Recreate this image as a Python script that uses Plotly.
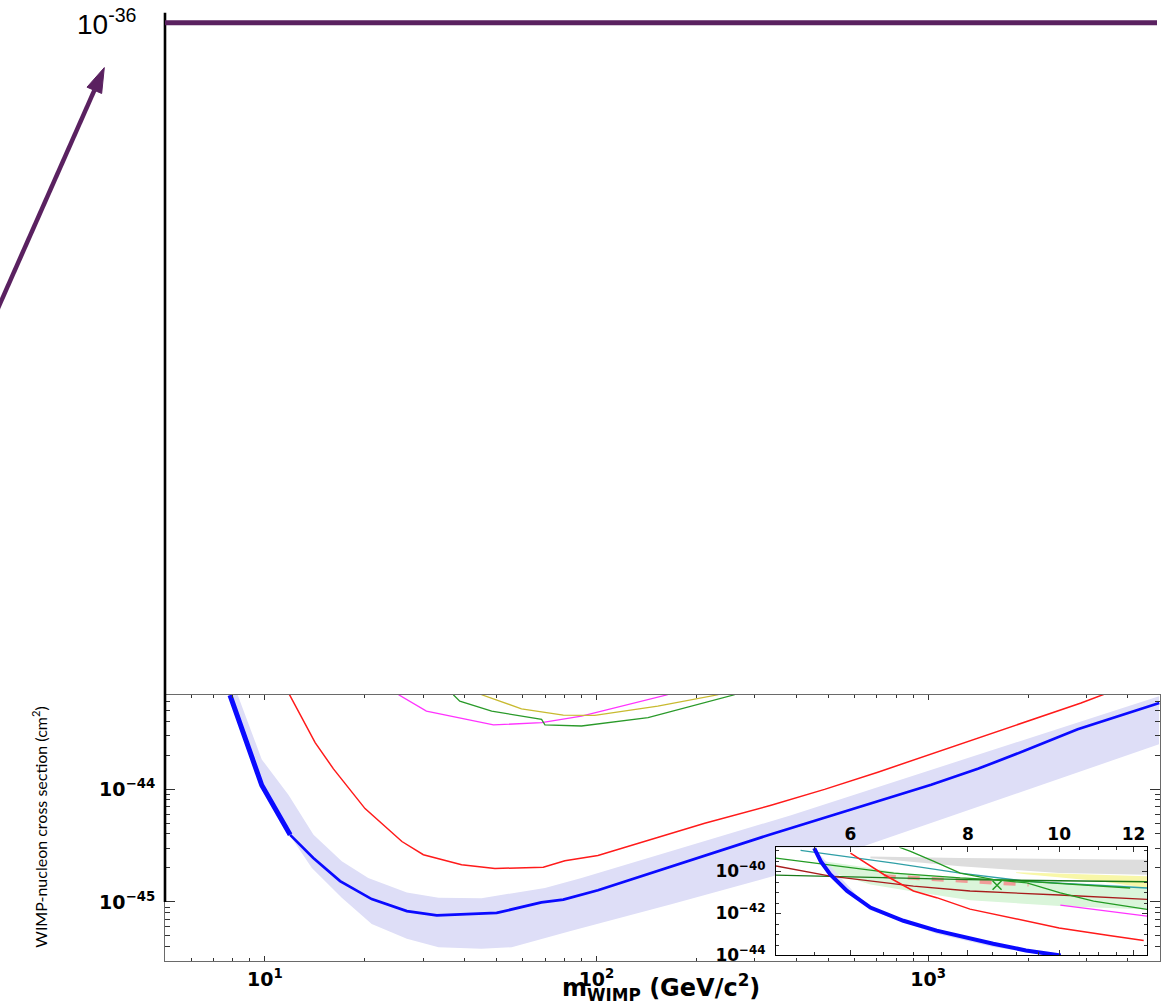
import numpy as np
import plotly.graph_objects as go

W, H = 1165, 1004

# ---------------- main panel: spin-independent WIMP-nucleon limits ----------------
# this result (median limit), GeV/c^2 and cm^2
mass_limit = [7.85, 9.79, 11.92, 14.0, 16.86, 21.0, 26.8, 33.0, 50, 68.2, 79.4, 101,
              336, 573, 1021, 1412, 1950, 2824, 4975]
sigma_limit = [6.8e-44, 1.08e-44, 3.93e-45, 2.45e-45, 1.53e-45, 1.06e-45, 8.3e-46, 7.6e-46,
               8.0e-46, 9.9e-46, 1.05e-45, 1.27e-45, 3.98e-45, 6.5e-45, 1.09e-44, 1.51e-44,
               2.18e-44, 3.38e-44, 5.79e-44]

# expected sensitivity band (upper and lower edges)
band_hi_mass = [8.24, 9.79, 11.79, 14.02, 17.06, 20.5, 26.8, 33.4, 45, 69.9, 90.1, 386, 4966]
band_hi_sigma = [7.1e-44, 1.83e-44, 8.85e-45, 3.94e-45, 2.29e-45, 1.63e-45, 1.21e-45, 1.09e-45,
                 1.08e-45, 1.33e-45, 1.63e-45, 5.87e-45, 6.64e-44]
band_lo_mass = [7.85, 9.79, 12.06, 13.86, 17.06, 21.0, 26.8, 33.4, 45, 55.5, 84.1, 168, 386, 4966]
band_lo_sigma = [6.8e-44, 1.08e-44, 3.66e-45, 2.0e-45, 1.09e-45, 6.37e-46, 4.71e-46, 3.97e-46,
                 3.85e-46, 3.97e-46, 5.57e-46, 9.55e-46, 1.87e-45, 2.49e-44]

# previous limit (red)
mass_red = [11.79, 14.18, 16.1, 20.05, 25.9, 30.06, 39.2, 49.4, 69.1, 80.3, 101, 212, 336, 487,
            705, 1021, 1477, 1950, 2890, 3476]
sigma_red = [7.1e-44, 2.58e-44, 1.51e-44, 6.71e-45, 3.43e-45, 2.62e-45, 2.14e-45, 1.98e-45,
             2.03e-45, 2.32e-45, 2.58e-45, 4.97e-45, 7.19e-45, 9.93e-45, 1.41e-44, 2.04e-44,
             2.96e-44, 3.87e-44, 5.79e-44, 7.1e-44]

mass_magenta = [25.3, 30.7, 48.9, 68.3, 90.1, 164]
sigma_magenta = [6.85e-44, 4.9e-44, 3.7e-44, 3.87e-44, 4.43e-44, 6.85e-44]

mass_olive = [45, 59.4, 79.4, 98.8, 153, 233]
sigma_olive = [6.85e-44, 5.14e-44, 4.52e-44, 4.49e-44, 5.42e-44, 6.85e-44]

mass_green = [37.0, 38.7, 48.3, 68.3, 69.9, 90.1, 143, 261]
sigma_green = [6.85e-44, 6.0e-44, 4.9e-44, 4.14e-44, 3.7e-44, 3.62e-44, 4.29e-44, 6.85e-44]

main_xticks = [10, 100, 1000]
main_xticktext = ["10<sup>1</sup>", "10<sup>2</sup>", "10<sup>3</sup>"]
main_yticks = [1e-44, 1e-45]
main_yticktext = ["10<sup>\u221244</sup>", "10<sup>\u221245</sup>"]

# ---------------- inset: low-mass region ----------------
inset_mass_limit = [5.49, 5.58, 5.71, 5.95, 6.30, 6.83, 7.41, 8.04, 8.51, 9.22, 10.04]
inset_sigma_limit = [1.26e-39, 2.95e-40, 7.0e-41, 1.15e-41, 1.87e-42, 4.44e-43, 1.5e-43,
                     6.1e-44, 3.56e-44, 1.72e-44, 9.8e-45]
inset_band_lo_mass = [5.5, 6.3, 7.41, 8.51, 9.5, 10.9]
inset_band_lo_sigma = [1.12e-39, 1.41e-42, 1.07e-43, 2.51e-44, 1.17e-44, 8.9e-45]

inset_mass_red = [6.0, 6.51, 7.00, 7.41, 8.04, 8.86, 10.0, 11.30, 12.3]
inset_sigma_red = [7.26e-40, 7.0e-41, 1.15e-41, 5.55e-42, 1.58e-42, 6.34e-43, 2.01e-43, 8.73e-44, 5.08e-44]

inset_mass_darkred = [5.0, 5.71, 7.00, 8.04, 10.0, 12.4]
inset_sigma_darkred = [1.78e-40, 5.82e-41, 1.97e-41, 1.15e-41, 7.43e-42, 4.6e-42]

inset_mass_flatgreen = [5.0, 8.0, 12.4]
inset_sigma_flatgreen = [6.49e-41, 3.98e-41, 3.16e-41]

inset_mass_green = [5.0, 5.67, 6.67, 7.85, 9.24, 11.9]
inset_sigma_green = [4.18e-40, 2.04e-40, 8.22e-41, 4.79e-41, 3.31e-41, 1.6e-41]

inset_mass_teal = [5.31, 6.67, 7.85, 9.24, 12.4]
inset_sigma_teal = [9.73e-40, 2.43e-40, 8.22e-41, 3.31e-41, 1.6e-41]

inset_mass_steep = [6.76, 6.95, 7.36, 7.85, 8.52, 9.24, 10.03, 10.88, 12.4]
inset_sigma_steep = [1.39e-39, 8.71e-40, 2.95e-40, 8.22e-41, 3.98e-41, 2.79e-41, 9.33e-42, 3.8e-42, 1.53e-42]

inset_mass_magenta = [10.03, 12.4]
inset_sigma_magenta = [2.45e-42, 7.41e-43]

inset_mass_salmon = [6.51, 9.28]
inset_sigma_salmon = [5.82e-41, 2.32e-41]

inset_mass_cross = [8.59]
inset_sigma_cross = [2.14e-41]

gray_hi_mass = [6.3, 7.85, 12.4]
gray_hi_sigma = [5.0e-40, 4.27e-40, 3.55e-40]
gray_lo_mass = [6.3, 6.6, 7.85, 10.0, 12.4]
gray_lo_sigma = [4.17e-40, 3.55e-40, 1.72e-40, 8.3e-41, 6.9e-41]

yellow_hi_mass = [9.0, 12.4]
yellow_hi_sigma = [8.9e-41, 5.82e-41]
yellow_lo_mass = [9.0, 9.22, 11.0, 12.4]
yellow_lo_sigma = [8.3e-41, 7.24e-41, 3.39e-41, 1.62e-41]

lgreen_hi_mass = [5.62, 6.30, 6.94, 8.04, 10.0, 12.4]
lgreen_hi_sigma = [2.95e-40, 1.43e-40, 7.0e-41, 4.84e-41, 2.82e-41, 1.91e-41]
lgreen_lo_mass = [5.67, 6.30, 6.94, 8.04, 10.0, 12.4]
lgreen_lo_sigma = [1.0e-40, 2.37e-41, 1.15e-41, 4.18e-42, 2.25e-42, 1.51e-42]

inset_xticks = [6, 8, 10, 12]
inset_yticks = [1e-40, 1e-42, 1e-44]
inset_yticktext = ["10<sup>\u221240</sup>", "10<sup>\u221242</sup>", "10<sup>\u221244</sup>"]

BLUE = "#0a0aff"
BAND = "#dedef7"


def px(x):
    return x / W


def py(y):
    return 1 - y / H


def band(m_hi, s_hi, m_lo, s_lo, color, xa, ya):
    return go.Scatter(x=list(m_hi) + list(m_lo)[::-1], y=list(s_hi) + list(s_lo)[::-1],
                      fill="toself", fillcolor=color, mode="lines", line=dict(width=0),
                      hoverinfo="skip", xaxis=xa, yaxis=ya)


def curve(m, s, color, width, xa, ya, dash="solid"):
    return go.Scatter(x=m, y=s, mode="lines", line=dict(color=color, width=width, dash=dash),
                      xaxis=xa, yaxis=ya)


fig = go.Figure()

# main panel
fig.add_trace(band(band_hi_mass, band_hi_sigma, band_lo_mass, band_lo_sigma, BAND, "x", "y"))
fig.add_trace(curve(mass_magenta, sigma_magenta, "#ff33ff", 1.3, "x", "y"))
fig.add_trace(curve(mass_olive, sigma_olive, "#c8ba30", 1.3, "x", "y"))
fig.add_trace(curve(mass_green, sigma_green, "#2a9a2a", 1.3, "x", "y"))
fig.add_trace(curve(mass_red, sigma_red, "#ff1a1a", 1.5, "x", "y"))
n_thick = 3
fig.add_trace(curve(mass_limit[:n_thick], sigma_limit[:n_thick], BLUE, 5, "x", "y"))
fig.add_trace(curve(mass_limit[n_thick - 1:], sigma_limit[n_thick - 1:], BLUE, 2.7, "x", "y"))

# inset
fig.add_trace(band(gray_hi_mass, gray_hi_sigma, gray_lo_mass, gray_lo_sigma, "#dddddd", "x2", "y2"))
fig.add_trace(band(lgreen_hi_mass, lgreen_hi_sigma, lgreen_lo_mass, lgreen_lo_sigma, "#daf5da", "x2", "y2"))
fig.add_trace(band(yellow_hi_mass, yellow_hi_sigma, yellow_lo_mass, yellow_lo_sigma, "#f8f7a8", "x2", "y2"))
fig.add_trace(band(inset_mass_limit, inset_sigma_limit, inset_band_lo_mass, inset_band_lo_sigma, BAND, "x2", "y2"))
fig.add_trace(curve(inset_mass_salmon, inset_sigma_salmon, "rgba(244,140,140,0.85)", 4, "x2", "y2", dash="dash"))
fig.add_trace(curve(inset_mass_teal, inset_sigma_teal, "#2f9fa6", 1.3, "x2", "y2"))
fig.add_trace(curve(inset_mass_green, inset_sigma_green, "#239b23", 1.3, "x2", "y2"))
fig.add_trace(curve(inset_mass_flatgreen, inset_sigma_flatgreen, "#1a7a1a", 1.3, "x2", "y2"))
fig.add_trace(curve(inset_mass_darkred, inset_sigma_darkred, "#a81c1c", 1.3, "x2", "y2"))
fig.add_trace(curve(inset_mass_steep, inset_sigma_steep, "#239b23", 1.3, "x2", "y2"))
fig.add_trace(curve(inset_mass_magenta, inset_sigma_magenta, "#ff33ff", 1.3, "x2", "y2"))
fig.add_trace(curve(inset_mass_red, inset_sigma_red, "#ff1a1a", 1.5, "x2", "y2"))
fig.add_trace(go.Scatter(x=inset_mass_cross, y=inset_sigma_cross, mode="markers",
                         marker=dict(symbol="x-thin", size=9, line=dict(color="#239b23", width=1.5)),
                         xaxis="x2", yaxis="y2"))
fig.add_trace(curve(inset_mass_limit, inset_sigma_limit, BLUE, 4, "x2", "y2"))

tickfont = dict(family="DejaVu Sans", size=19, color="black", weight="bold")
inset_tickfont = dict(family="DejaVu Sans", size=17, color="black", weight="bold")

x_minor = [6, 7, 8, 9, 20, 30, 40, 50, 60, 70, 80, 90, 200, 300, 400, 500, 600, 700, 800, 900,
           2000, 3000, 4000]
y_minor = [4e-46, 5e-46, 6e-46, 7e-46, 8e-46, 9e-46, 2e-45, 3e-45, 4e-45, 5e-45, 6e-45, 7e-45,
           8e-45, 9e-45, 2e-44, 3e-44, 4e-44, 5e-44, 6e-44]
inset_x_minor = [5, 5.5, 6.5, 7, 7.5, 8.5, 9, 9.5, 10.5, 11, 11.5]
inset_y_minor = [1e-39, 3e-40, 3e-41, 1e-41, 3e-42, 1e-43, 3e-43, 3e-44]

axis_common = dict(showgrid=False, zeroline=False, showline=True, mirror="allticks",
                   ticks="inside", tickcolor="#333")

fig.update_layout(
    width=W, height=H, margin=dict(l=0, r=0, t=0, b=0),
    paper_bgcolor="white", plot_bgcolor="white", showlegend=False,
    xaxis=dict(type="log", domain=[px(165), px(1160)], range=[np.log10(5), np.log10(5000)],
               anchor="y", tickvals=main_xticks, ticktext=main_xticktext, ticklen=5,
               linecolor="#6a6a6a", linewidth=1, ticklabelstandoff=1, tickfont=tickfont,
               minor=dict(tickvals=x_minor, ticks="inside", ticklen=3, tickcolor="#333"),
               **axis_common),
    yaxis=dict(type="log", domain=[py(971), py(702)], range=[-45.526, -43.167],
               anchor="x", tickvals=main_yticks, ticktext=main_yticktext, ticklen=10,
               linecolor="#6a6a6a", linewidth=1, ticklabelstandoff=5, tickfont=tickfont,
               minor=dict(tickvals=y_minor, ticks="inside", ticklen=5, tickcolor="#333"),
               **axis_common),
    xaxis2=dict(type="log", domain=[px(776), px(1147)], range=[np.log10(5), np.log10(12.4)],
                anchor="y2", side="top", tickvals=inset_xticks, ticklen=5,
                linecolor="black", linewidth=1, ticklabelstandoff=0, tickfont=inset_tickfont,
                minor=dict(tickvals=inset_x_minor, ticks="inside", ticklen=3, tickcolor="#333"),
                **axis_common),
    yaxis2=dict(type="log", domain=[py(965), py(856)], range=[-44, -38.87],
                anchor="x2", tickvals=inset_yticks, ticktext=inset_yticktext, ticklen=5,
                linecolor="black", linewidth=1, ticklabelstandoff=6, tickfont=inset_tickfont,
                minor=dict(tickvals=inset_y_minor, ticks="inside", ticklen=3, tickcolor="#333"),
                **axis_common),
)

# axis titles
fig.add_annotation(text="WIMP-nucleon cross section (cm<sup>2</sup>)", textangle=-90,
                   xref="paper", yref="paper", x=px(40), y=py(836), showarrow=False,
                   xanchor="center", yanchor="middle",
                   font=dict(family="Lato, Liberation Sans", size=16, color="black"))
fig.add_annotation(text="m<sub>WIMP</sub> (GeV/c<sup>2</sup>)",
                   xref="paper", yref="paper", x=px(661), y=py(978), showarrow=False,
                   xanchor="center", yanchor="top",
                   font=dict(family="DejaVu Sans", size=24, color="black", weight="bold"))

# extended cross-section scale up to 1e-36
PURPLE = "#5a2160"
fig.add_shape(type="line", xref="paper", yref="paper", x0=px(165), x1=px(165),
              y0=py(911), y1=py(13), line=dict(color="black", width=2.6))
fig.add_shape(type="line", xref="paper", yref="paper", x0=px(165), x1=px(1157),
              y0=py(23), y1=py(23), line=dict(color=PURPLE, width=5))
fig.add_annotation(text="10<sup>-36</sup>", xref="paper", yref="paper", x=px(139), y=py(22),
                   xanchor="right", yanchor="middle", showarrow=False,
                   font=dict(family="Liberation Sans, Arial", size=28, color="black"))

# arrow pointing up towards the extended scale
tip = np.array([104.3, 68.3])
direction = np.array([0.399, -0.917])
perp = np.array([0.917, 0.399])
base = tip - 25 * direction
c1 = base + 8 * perp
c2 = base - 8 * perp
tail = np.array([-6.0, 320.5])
fig.add_shape(type="line", xref="paper", yref="paper", x0=px(tail[0]), y0=py(tail[1]),
              x1=px(base[0]), y1=py(base[1]), line=dict(color=PURPLE, width=4.5))
fig.add_shape(type="path", xref="paper", yref="paper",
              path=f"M {px(tip[0])} {py(tip[1])} L {px(c1[0])} {py(c1[1])} "
                   f"L {px(c2[0])} {py(c2[1])} Z",
              fillcolor=PURPLE, line=dict(color=PURPLE, width=1))

fig.write_html("out.html")
